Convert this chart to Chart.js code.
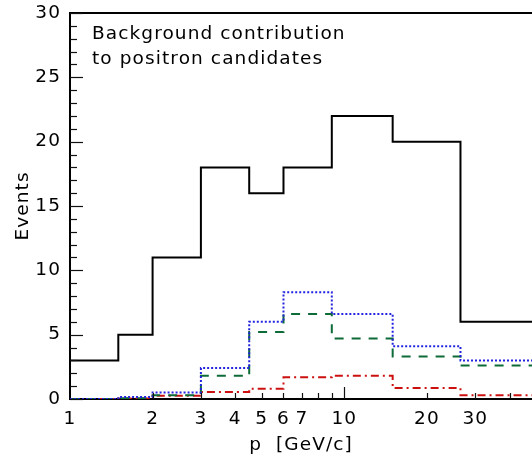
<!DOCTYPE html>
<html><head><meta charset="utf-8">
<script src="https://cdn.jsdelivr.net/npm/chart.js@4.4.1/dist/chart.umd.min.js"></script>
<style>html,body{margin:0;padding:0;background:#fff;overflow:hidden}#wrap{width:532px;height:457px;position:relative}</style>
</head><body><div id="wrap"><canvas id="c"></canvas></div>
<script>
const binEdges = [1, 1.5, 2, 3, 4.5, 6, 9, 15, 26.5, 50];
const totalBackground = [3, 5, 11, 18, 16, 18, 22, 20, 6];
const dottedBlue = [0, 0.15, 0.5, 2.4, 6.0, 8.3, 6.6, 4.1, 3.0];
const dashedGreen = [0, 0.05, 0.3, 1.8, 5.2, 6.6, 4.7, 3.3, 2.6];
const dashDotRed = [0, 0.03, 0.25, 0.55, 0.8, 1.7, 1.8, 0.85, 0.3];
const xTickLabels = [1, 2, 3, 4, 5, 6, 7, 10, 20, 30];
const xMinorTicks = [2, 3, 4, 5, 6, 7, 8, 9, 20, 30, 40];
const xMajorTicks = [10];
const yTickStep = 5;
const noteLines = ['Background contribution', 'to positron candidates'];
const xTitle = 'p  [GeV/c]';
const yTitle = 'Events';

const FONT = "'DejaVu Sans', sans-serif";
const FSIZE = 18.5;
const SPACING = '1.1px';

function toSteps(vals) {
  return binEdges.map((e, i) => ({ x: e, y: vals[Math.min(i, vals.length - 1)] }));
}

const spacingPlugin = {
  id: 'spacing',
  beforeUpdate(chart) { chart.ctx.letterSpacing = SPACING; },
  beforeLayout(chart) { chart.ctx.letterSpacing = SPACING; },
  beforeDraw(chart) { chart.ctx.letterSpacing = SPACING; }
};

const framePlugin = {
  id: 'frame',
  afterDraw(chart) {
    const { ctx, chartArea: a, scales: { x, y } } = chart;
    ctx.save();
    ctx.strokeStyle = '#000';
    ctx.lineWidth = 2;
    ctx.beginPath(); ctx.moveTo(a.left, a.top); ctx.lineTo(a.right, a.top); ctx.stroke();
    ctx.lineWidth = 1.2; ctx.strokeStyle = '#111';
    for (let v = y.min; v <= y.max; v++) {
      const py = Math.round(y.getPixelForValue(v)) + 0.5;
      const len = v % yTickStep === 0 ? 13 : 7;
      ctx.beginPath(); ctx.moveTo(a.left, py); ctx.lineTo(a.left + len, py); ctx.stroke();
    }
    const drawX = (v, len) => {
      const px = Math.round(x.getPixelForValue(v)) + 0.5;
      if (px > a.right) return;
      ctx.beginPath(); ctx.moveTo(px, a.bottom); ctx.lineTo(px, a.bottom - len); ctx.stroke();
    };
    xMinorTicks.forEach(v => drawX(v, 6));
    xMajorTicks.forEach(v => drawX(v, 12));
    ctx.fillStyle = '#000';
    ctx.font = FSIZE + 'px ' + FONT;
    ctx.letterSpacing = SPACING;
    ctx.textAlign = 'left';
    ctx.textBaseline = 'alphabetic';
    noteLines.forEach((t, i) => ctx.fillText(t, 92, 39 + i * 25));
    ctx.restore();
  }
};

const common = { stepped: 'before', pointRadius: 0, fill: false, borderWidth: 2, tension: 0, borderCapStyle: 'butt', borderJoinStyle: 'miter' };

new Chart(document.getElementById('c'), {
  type: 'line',
  data: {
    datasets: [
      Object.assign({ label: 'total', data: toSteps(totalBackground), borderColor: '#000' }, common),
      Object.assign({ label: 'dotted', data: toSteps(dottedBlue), borderColor: '#2323e0', borderDash: [2, 2] }, common),
      Object.assign({ label: 'dashed', data: toSteps(dashedGreen), borderColor: '#0d6b38', borderDash: [9, 8] }, common),
      Object.assign({ label: 'dashdot', data: toSteps(dashDotRed), borderColor: '#cc1010', borderDash: [8, 4, 2, 4] }, common)
    ]
  },
  options: {
    responsive: true,
    maintainAspectRatio: false,
    devicePixelRatio: 1,
    animation: false,
    layout: { padding: { top: 13, right: 0, left: 0, bottom: 0 } },
    plugins: { legend: { display: false }, tooltip: { enabled: false } },
    scales: {
      x: {
        type: 'logarithmic', min: 1, max: 48.3,
        grid: { display: false },
        border: { display: true, color: '#000', width: 2 },
        afterBuildTicks(s) { s.ticks = xTickLabels.map(v => ({ value: v })); },
        ticks: { autoSkip: false, maxRotation: 0, color: '#000', font: { family: FONT, size: FSIZE }, padding: 1, callback: (v) => String(v) },
        title: { display: true, text: xTitle, color: '#000', font: { family: FONT, size: FSIZE }, padding: { top: 0, bottom: 1 } },
        afterFit(s) { s.height = 58; }
      },
      y: {
        min: 0, max: 30,
        grid: { display: false },
        border: { display: true, color: '#000', width: 2 },
        ticks: { stepSize: yTickStep, color: '#000', font: { family: FONT, size: FSIZE }, padding: 1 },
        title: { display: true, text: yTitle, color: '#000', font: { family: FONT, size: FSIZE }, padding: { top: 12, bottom: 0 } },
        afterFit(s) { s.width = 70; }
      }
    }
  },
  plugins: [spacingPlugin, framePlugin]
});
</script>
</body></html>
